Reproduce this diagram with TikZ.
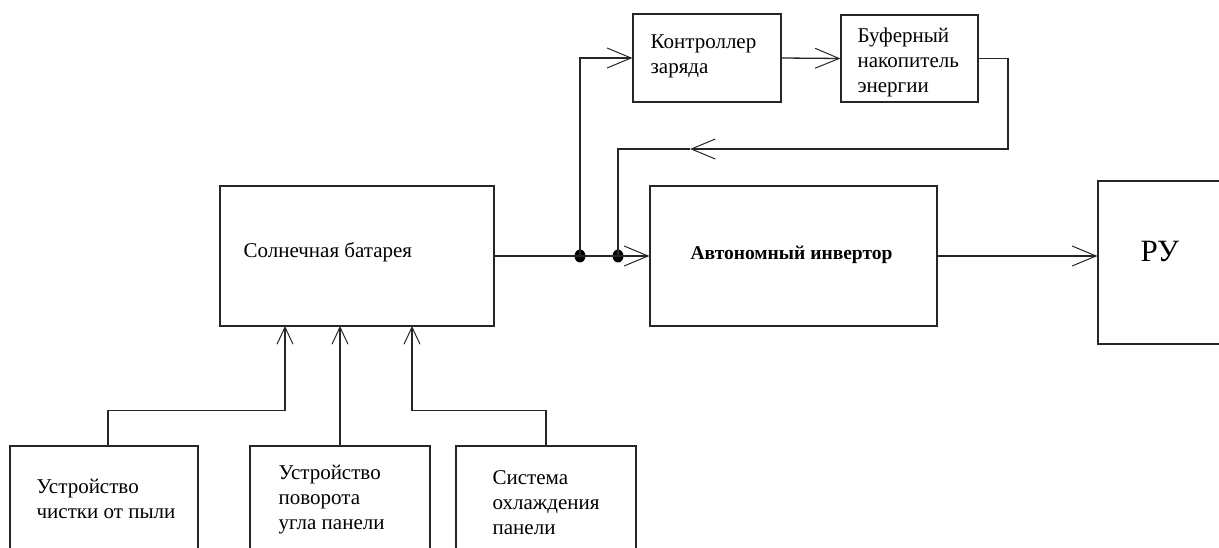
\documentclass[tikz,border=0pt]{standalone}
\usepackage{fontspec}
\setmainfont{Liberation Serif}
\usetikzlibrary{arrows.meta,shapes.geometric}
\begin{document}
\begin{tikzpicture}[x=1pt,y=-1pt,
  line width=1.3pt, draw=black!85,
  blk/.style={draw, rectangle, inner sep=0pt},
  txt/.style={anchor=west, align=left, inner sep=0pt, font=\fontsize{21}{25}\selectfont},
  arr/.style={-{Straight Barb[length=24pt,width=20pt,line width=1pt]}},
  varr/.style={-{Straight Barb[length=17pt,width=16pt,line width=1pt]}},
  dot/.style={ellipse, fill=black, inner sep=0pt, minimum width=11pt, minimum height=13pt}]
\useasboundingbox (0,0) rectangle (1219,548);
% boxes
\node[blk, minimum width=274pt, minimum height=140pt] (sol) at (357,256) {};
\node[blk, minimum width=287pt, minimum height=140pt] (inv) at (793.5,256) {};
\node[blk, minimum width=148pt, minimum height=88pt] (ctrl) at (707,58) {};
\node[blk, minimum width=137pt, minimum height=87pt] (buf) at (909.5,58.5) {};
\node[blk, minimum width=140pt, minimum height=163pt] (ru) at (1168,262.5) {};
\node[blk, minimum width=188pt, minimum height=110pt] (b1) at (104,501) {};
\node[blk, minimum width=180pt, minimum height=110pt] (b2) at (340,501) {};
\node[blk, minimum width=180pt, minimum height=110pt] (b3) at (546,501) {};
% texts
\node[txt] (tsol) at (243,252) {Солнечная батарея};
\node[txt, font=\fontsize{19.5}{25}\selectfont\bfseries] (tinv) at (690,255) {Автономный инвертор};
\node[txt] (tctrl) at (650,56) {Контроллер\\заряда};
\node[txt] (tbuf) at (857,62) {Буферный\\накопитель\\энергии};
\node[txt, font=\fontsize{31}{36}\selectfont] (tru) at (1140,252) {РУ};
\node[txt] (tb1) at (36,499) {Устройство\\чистки от пыли};
\node[txt] (tb2) at (278,500) {Устройство\\поворота\\угла панели};
\node[txt] (tb3) at (492,503) {Система\\охлаждения\\панели};
% junctions
\node[dot] (j1) at (580,256) {};
\node[dot] (j2) at (618,256) {};
% connectors
\draw[arr] (sol.east) -- (inv.west);
\draw[arr] (j1.center) |- (ctrl.west);
\draw[arr] (ctrl.east) -- (buf.west);
\coordinate (fr) at (1008,149);
\coordinate (fm) at (690,149);
\draw[arr] (buf.east) -| (fr) -- (fm);
\draw (fm) -- (fm -| j2) -- (j2.center);
\draw[arr] (inv.east) -- (inv.east -| ru.west);
\coordinate (s1) at (285,326);
\coordinate (s2) at (340,326);
\coordinate (s3) at (412,326);
\coordinate (p1) at ([xshift=4pt]b1.north);
\draw[varr] (p1) -- ++(0,-35) -| (s1);
\draw[varr] (b2.north) -- (s2);
\draw[varr] (b3.north) -- ++(0,-35) -| (s3);
\end{tikzpicture}
\end{document}
